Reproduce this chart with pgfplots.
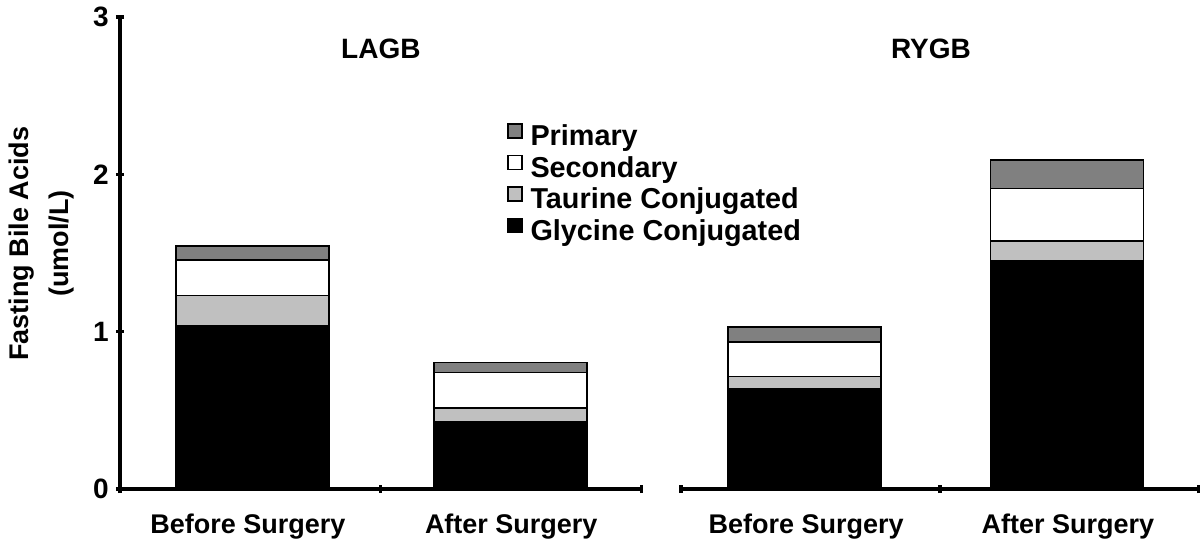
\documentclass[border=0pt]{standalone}
\usepackage{fontspec}
\setmainfont{Liberation Sans}
\usepackage{pgfplots}
\pgfplotsset{compat=1.18}
\definecolor{prim}{HTML}{808080}
\definecolor{taur}{HTML}{C0C0C0}
\begin{document}
\begin{tikzpicture}
\tikzset{
 lbl/.style={font=\bfseries\fontsize{13.5}{15}\selectfont, anchor=base},
 ttl/.style={font=\bfseries\fontsize{14}{16}\selectfont, anchor=base},
}
\pgfplotsset{
 common/.style={
  scale only axis, height=236pt,
  ymin=0, ymax=3, xmin=0, xmax=2,
  ybar stacked, bar width=76.5pt,
  xtick={0,1,2}, xticklabels={},
  tick align=outside, major tick length=4pt,
  every tick/.style={black, line width=1.6pt},
  tick label style={font=\bfseries\fontsize{14}{16}\selectfont},
  /pgf/number format/assume math mode=true,
  clip=false,
  every axis plot/.append style={draw=black, line width=0.8pt},
 },
}
\path[use as bounding box] (-60pt,-26pt) rectangle (540pt,244.5pt);
\begin{axis}[common, width=260.85pt, at={(0pt,0pt)}, anchor=south west,
  axis x line=bottom, axis y line=left,
  axis line style={-, line width=1.6pt},
  ytick={0,1,2,3},
  yticklabel style={inner sep=3.5pt},
  ylabel={Fasting Bile Acids\\(umol/L)},
  every axis y label/.style={at={(axis description cs:0,0.52)}, xshift=-39pt, rotate=90, anchor=center,
     font=\bfseries\fontsize{13.5}{20}\selectfont, align=center},
  reverse legend,
  legend style={at={(rel axis cs:0.742,0.775)}, anchor=north west, draw=none, fill=none,
    inner sep=0pt, outer sep=0pt, row sep=0pt,
    font=\bfseries\fontsize{14.4}{16}\selectfont,
    nodes={inner sep=0pt, text height=10.2pt, text depth=4.6pt},
    /tikz/every odd column/.append style={column sep=4pt}},
  legend cell align=left,
  legend image code/.code={\draw[#1,draw=black,line width=0.7pt] (0pt,1pt) rectangle (7pt,8pt);},
]
\addplot[fill=black] coordinates {(0.508,1.04) (1.496,0.425)};
\addplot[fill=taur] coordinates {(0.508,0.19) (1.496,0.09)};
\addplot[fill=white] coordinates {(0.508,0.225) (1.496,0.225)};
\addplot[fill=prim] coordinates {(0.508,0.09) (1.496,0.065)};
\legend{Glycine Conjugated, Taurine Conjugated, Secondary, Primary}
\node[ttl] at (axis cs:1.0,2.739) {LAGB};
\node[lbl] at (axis cs:0.49,0) [yshift=-22pt] {Before Surgery};
\node[lbl] at (axis cs:1.5,0) [yshift=-22pt] {After Surgery};
\end{axis}
\begin{axis}[common, width=259pt, at={(280.5pt,0pt)}, anchor=south west,
  axis x line=bottom, axis y line=none,
  axis line style={-, line width=1.6pt},
  ytick=\empty]
\addplot[fill=black] coordinates {(0.477,0.64) (1.49,1.45)};
\addplot[fill=taur] coordinates {(0.477,0.075) (1.49,0.125)};
\addplot[fill=white] coordinates {(0.477,0.22) (1.49,0.335)};
\addplot[fill=prim] coordinates {(0.477,0.095) (1.49,0.18)};
\node[ttl] at (axis cs:0.965,2.739) {RYGB};
\node[lbl] at (axis cs:0.483,0) [yshift=-22pt] {Before Surgery};
\node[lbl] at (axis cs:1.494,0) [yshift=-22pt] {After Surgery};
\end{axis}
\end{tikzpicture}
\end{document}
